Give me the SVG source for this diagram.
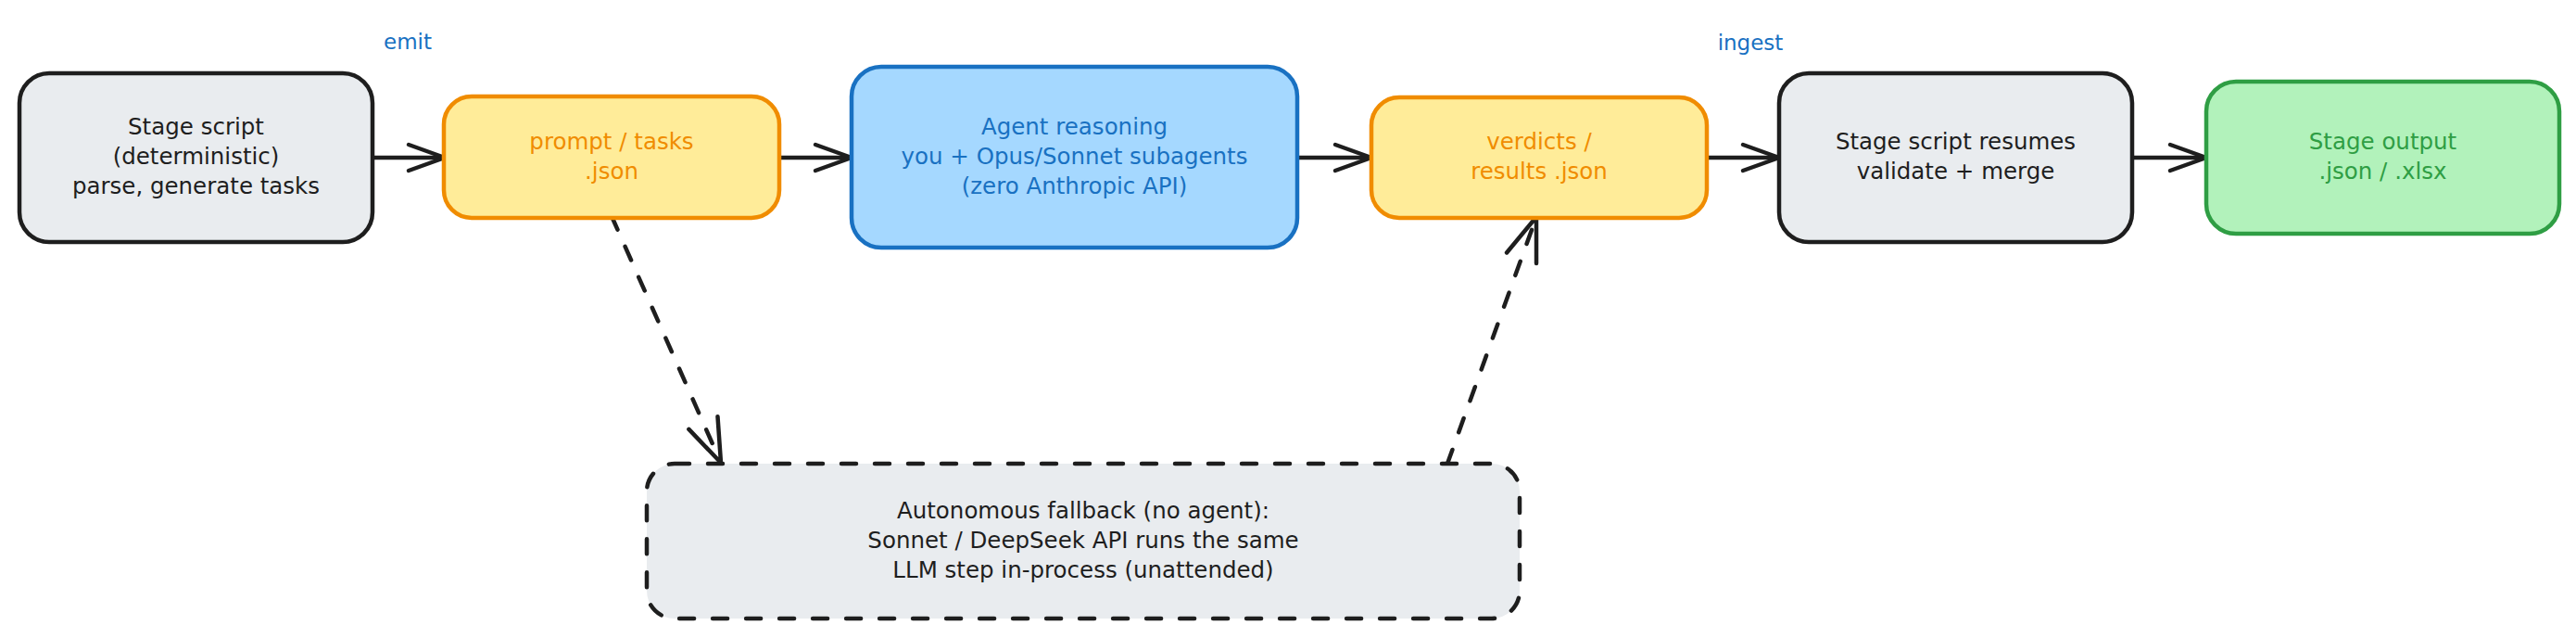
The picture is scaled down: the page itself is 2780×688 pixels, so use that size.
<svg xmlns="http://www.w3.org/2000/svg" width="2780" height="688" viewBox="0 0 2780 688">
  <style>
    .box { stroke-width: 4.5; stroke-linejoin: round; }
    .gray { fill: #e9ecef; stroke: #1e1e1e; }
    .yellow { fill: #ffec99; stroke: #f08c00; }
    .blue { fill: #a5d8ff; stroke: #1971c2; }
    .green { fill: #b2f2bb; stroke: #2f9e44; }
    .dashed { stroke-dasharray: 16 20; stroke-linecap: round; }
    text { font-family: "DejaVu Sans", "Liberation Sans", sans-serif; font-size: 24.5px; text-anchor: middle; }
    .t-dark { fill: #1e1e1e; }
    .t-yellow { fill: #f08c00; }
    .t-blue { fill: #1971c2; }
    .t-green { fill: #2f9e44; }
    .lbl { font-size: 23px; fill: #1971c2; }
    .conn { fill: none; stroke: #1e1e1e; stroke-width: 4.5; stroke-linecap: round; }
    .head { fill: none; stroke: #1e1e1e; stroke-width: 4.5; stroke-linecap: round; stroke-linejoin: round; stroke-dasharray: none; }
  </style>
  <defs>
    <marker id="arrow" markerUnits="userSpaceOnUse" orient="auto" viewBox="-50 -22 56 44" refX="0" refY="0" markerWidth="56" markerHeight="44">
      <path class="head" d="M -39 -14 L 0 0 L -39 14"/>
    </marker>
    <marker id="arrowBig" markerUnits="userSpaceOnUse" orient="auto" viewBox="-52 -22 58 44" refX="0" refY="0" markerWidth="58" markerHeight="44">
      <path class="head" d="M -47 -17 L 0 0 L -47 17"/>
    </marker>
  </defs>

  <g id="connectors">
    <line class="conn" x1="402" y1="170" x2="480" y2="170" marker-end="url(#arrow)"/>
    <line class="conn" x1="841" y1="170" x2="919" y2="170" marker-end="url(#arrow)"/>
    <line class="conn" x1="1400" y1="170" x2="1480" y2="170" marker-end="url(#arrow)"/>
    <line class="conn" x1="1842" y1="170" x2="1920" y2="170" marker-end="url(#arrow)"/>
    <line class="conn" x1="2301" y1="170" x2="2381" y2="170" marker-end="url(#arrow)"/>
    <line class="conn dashed" x1="660" y1="233" x2="778" y2="499" marker-end="url(#arrowBig)"/>
    <line class="conn dashed" x1="1562" y1="500" x2="1658" y2="234" marker-end="url(#arrowBig)"/>
  </g>

  <g id="label-emit">
    <text class="lbl" x="440" y="53">emit</text>
  </g>
  <g id="label-ingest">
    <text class="lbl" x="1889" y="54">ingest</text>
  </g>

  <g id="node-stage-script">
    <rect class="box gray" x="21" y="79" width="381" height="182" rx="32" ry="32"/>
    <text class="t-dark" x="211.5" y="145">Stage script</text>
    <text class="t-dark" x="211.5" y="177">(deterministic)</text>
    <text class="t-dark" x="211.5" y="209">parse, generate tasks</text>
  </g>

  <g id="node-prompt-tasks">
    <rect class="box yellow" x="479" y="104" width="362" height="131" rx="30" ry="30"/>
    <text class="t-yellow" x="660" y="161">prompt / tasks</text>
    <text class="t-yellow" x="660" y="193">.json</text>
  </g>

  <g id="node-agent">
    <rect class="box blue" x="919" y="72" width="481" height="195" rx="32" ry="32"/>
    <text class="t-blue" x="1159.5" y="145">Agent reasoning</text>
    <text class="t-blue" x="1159.5" y="177">you + Opus/Sonnet subagents</text>
    <text class="t-blue" x="1159.5" y="209">(zero Anthropic API)</text>
  </g>

  <g id="node-verdicts">
    <rect class="box yellow" x="1480" y="105" width="362" height="130" rx="30" ry="30"/>
    <text class="t-yellow" x="1661" y="161">verdicts /</text>
    <text class="t-yellow" x="1661" y="193">results .json</text>
  </g>

  <g id="node-stage-resumes">
    <rect class="box gray" x="1920" y="79" width="381" height="182" rx="32" ry="32"/>
    <text class="t-dark" x="2110.5" y="161">Stage script resumes</text>
    <text class="t-dark" x="2110.5" y="193">validate + merge</text>
  </g>

  <g id="node-stage-output">
    <rect class="box green" x="2381" y="88" width="381" height="164" rx="32" ry="32"/>
    <text class="t-green" x="2571.5" y="161">Stage output</text>
    <text class="t-green" x="2571.5" y="193">.json / .xlsx</text>
  </g>

  <g id="node-fallback">
    <rect class="box gray dashed" x="698" y="500" width="942" height="167" rx="30" ry="30"/>
    <text class="t-dark" x="1169" y="559">Autonomous fallback (no agent):</text>
    <text class="t-dark" x="1169" y="591">Sonnet / DeepSeek API runs the same</text>
    <text class="t-dark" x="1169" y="623">LLM step in-process (unattended)</text>
  </g>
</svg>
